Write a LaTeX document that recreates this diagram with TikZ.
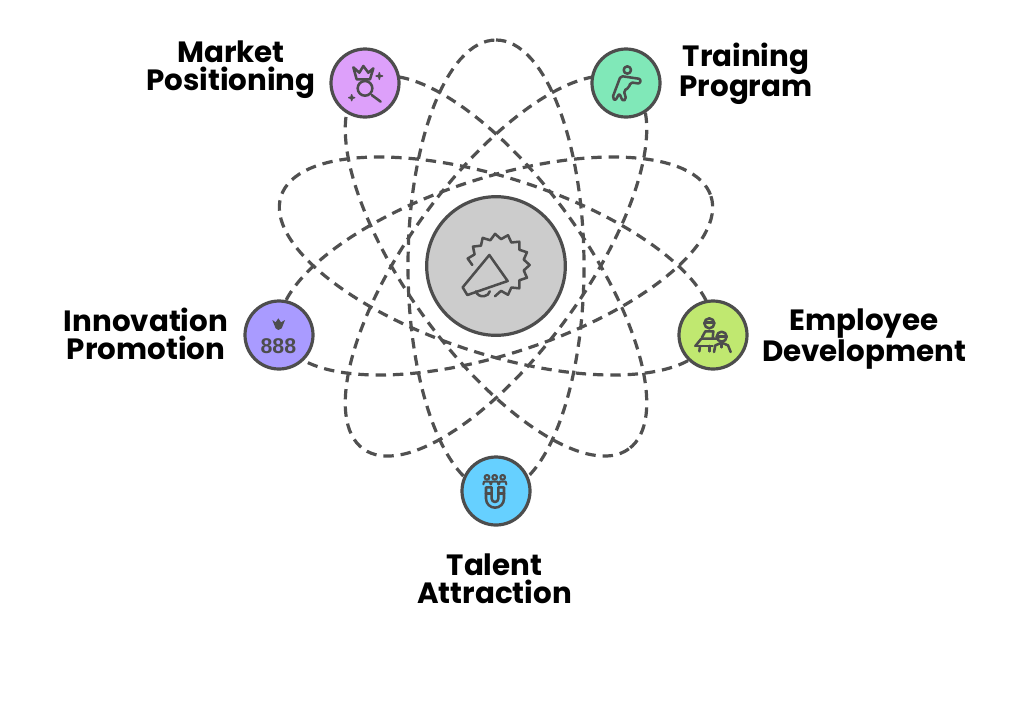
\documentclass[tikz,border=0pt]{standalone}
\usepackage{fontspec}
\setmainfont{Poppins}
\newfontfamily\digitfont{Liberation Sans}
\definecolor{ink}{HTML}{4D4D4D}
\definecolor{orbit}{HTML}{505050}
\definecolor{cMarket}{HTML}{DDA0FA}
\definecolor{cTrain}{HTML}{80E8B8}
\definecolor{cInnov}{HTML}{A99BFF}
\definecolor{cEmp}{HTML}{C0E870}
\definecolor{cTalent}{HTML}{66D0FF}
\definecolor{cHub}{HTML}{CCCCCC}
\tikzset{
  orbitline/.style={draw=orbit,line width=2.4pt,dash pattern=on 7.8pt off 5.2pt},
  hubnode/.style={circle,draw=ink,line width=2.4pt,fill=cHub,minimum size=104pt,inner sep=0pt},
  satnode/.style={circle,draw=ink,line width=2.4pt,minimum size=51pt,inner sep=0pt},
  lbl/.style={font=\bfseries\fontsize{22pt}{21pt}\selectfont,align=center,text=black,inner sep=0pt},
  iconline/.style={draw=ink,line width=1.9pt,line join=round,line cap=round},
  zoomed/.style 2 args={shift={(#1,#2)},x=.25pt,y=-.25pt}
}
\begin{document}
\begin{tikzpicture}[x=.75pt,y=-.75pt]
\useasboundingbox (0,0) rectangle (1024,708);
\coordinate (hubc) at (496,266);
% orbits
\foreach \a in {90,18,-18,54,-54}
  \draw[orbitline,shift={(hubc)},rotate=\a] (0,0) ellipse [x radius=226,y radius=88];
% nodes
\node[hubnode] (hub) at (hubc) {};
\node[satnode,fill=cMarket] (market) at (365,83) {};
\node[satnode,fill=cTrain] (train) at (626,83) {};
\node[satnode,fill=cInnov] (innov) at (279,335) {};
\node[satnode,fill=cEmp] (emp) at (713,335) {};
\node[satnode,fill=cTalent] (talent) at (496,491) {};
% labels
\node[lbl] (lmarket) at (231,70) {Market\\Positioning};
\node[lbl] (ltrain) at (746,74) {Training\\Program};
\node[lbl] (linnov) at (146,334) {Innovation\\Promotion};
\node[lbl] (lemp) at (864,339) {Employee\\Development};
\node[lbl] (ltalent) at (494.5,579) {Talent\\Attraction};
% hub icon
\begin{scope}[zoomed={410}{180}]
  \draw[iconline] plot[sharp plot,samples=24,domain=180:456] ({265+(86+8*cos(15*\x))*cos(\x)},{255+(86+8*cos(15*\x))*sin(\x)});
  \draw[iconline,fill=cHub] (238,225) -- (293,303) -- (172,345) -- (158,322) -- cycle;
  \draw[iconline] (198,334) arc[start angle=170,end angle=10,x radius=21,y radius=18];
\end{scope}
% market icon
\begin{scope}[zoomed={320}{40}]
  \draw[iconline] (110,118) -- (100,82) -- (118,98) -- (130,78) -- (145,98) -- (160,85) -- (150,118) -- cycle;
  \draw[iconline] (135,145) circle[radius=22];
  \draw[iconline] (155,165) -- (182,185);
  \draw[iconline,line width=1pt,fill=ink] (178,98) -- (180,106) -- (188,108) -- (180,110) -- (178,118) -- (176,110) -- (168,108) -- (176,106) -- cycle;
  \draw[iconline,line width=1pt,fill=ink] (95,164) -- (97,171) -- (104,173) -- (97,175) -- (95,182) -- (93,175) -- (86,173) -- (93,171) -- cycle;
\end{scope}
% training icon
\begin{scope}[zoomed={580}{40}]
  \draw[iconline] (142,90) circle[radius=11];
  \draw[iconline,rounded corners=1.5pt] (122,108) -- (182,117) -- (180,131) -- (151,127) -- (147,143) -- (131,152) -- (139,178) -- (128,183) -- (118,160) -- (106,182) -- (97,174) -- cycle;
\end{scope}
% innovation icon
\begin{scope}[zoomed={235}{290}]
  \fill[ink] (112,90) -- (122,97) -- (130,85) -- (138,97) -- (150,90) -- (140,115) -- (130,120) -- (122,115) -- cycle;
  \node[text=ink,font=\digitfont\bfseries\fontsize{16pt}{16pt}\selectfont,inner sep=0pt] (eights) at (130,168) {888};
\end{scope}
% employee icon
\begin{scope}[zoomed={670}{290}]
  \draw[iconline] (118,100) circle[radius=15];
  \draw[iconline] (104,98) -- (132,98);
  \draw[iconline] (96,142) -- (106,124) -- (130,124) -- (128,145);
  \draw[iconline] (76,168) -- (94,146) -- (145,146);
  \draw[iconline] (76,168) -- (128,168);
  \draw[iconline] (90,168) -- (88,184);
  \draw[iconline] (118,168) -- (118,184);
  \draw[iconline] (155,140) circle[radius=15];
  \draw[iconline] (140,140) -- (170,140);
  \draw[iconline] (132,186) -- (136,166) -- (155,158) -- (174,166) -- (182,186);
  \draw[iconline] (155,158) -- (155,172);
\end{scope}
% talent icon
\begin{scope}[zoomed={450}{445}]
  \draw[iconline] (108,127) -- (108,161) arc[start angle=180,end angle=0,radius=27] -- (162,127) -- (145,127) -- (145,161) arc[start angle=0,end angle=180,radius=10] -- (125,127) -- cycle;
  \draw[iconline] (108,145) -- (125,145);
  \draw[iconline] (145,145) -- (162,145);
  \foreach \hx in {111,134,158}{
    \draw[iconline,line width=1.6pt] (\hx,97) circle[radius=7];
    \draw[iconline,line width=1.6pt] (\hx-11,118) -- (\hx-9,110) -- (\hx+9,110) -- (\hx+11,118);
  }
\end{scope}
\end{tikzpicture}
\end{document}
